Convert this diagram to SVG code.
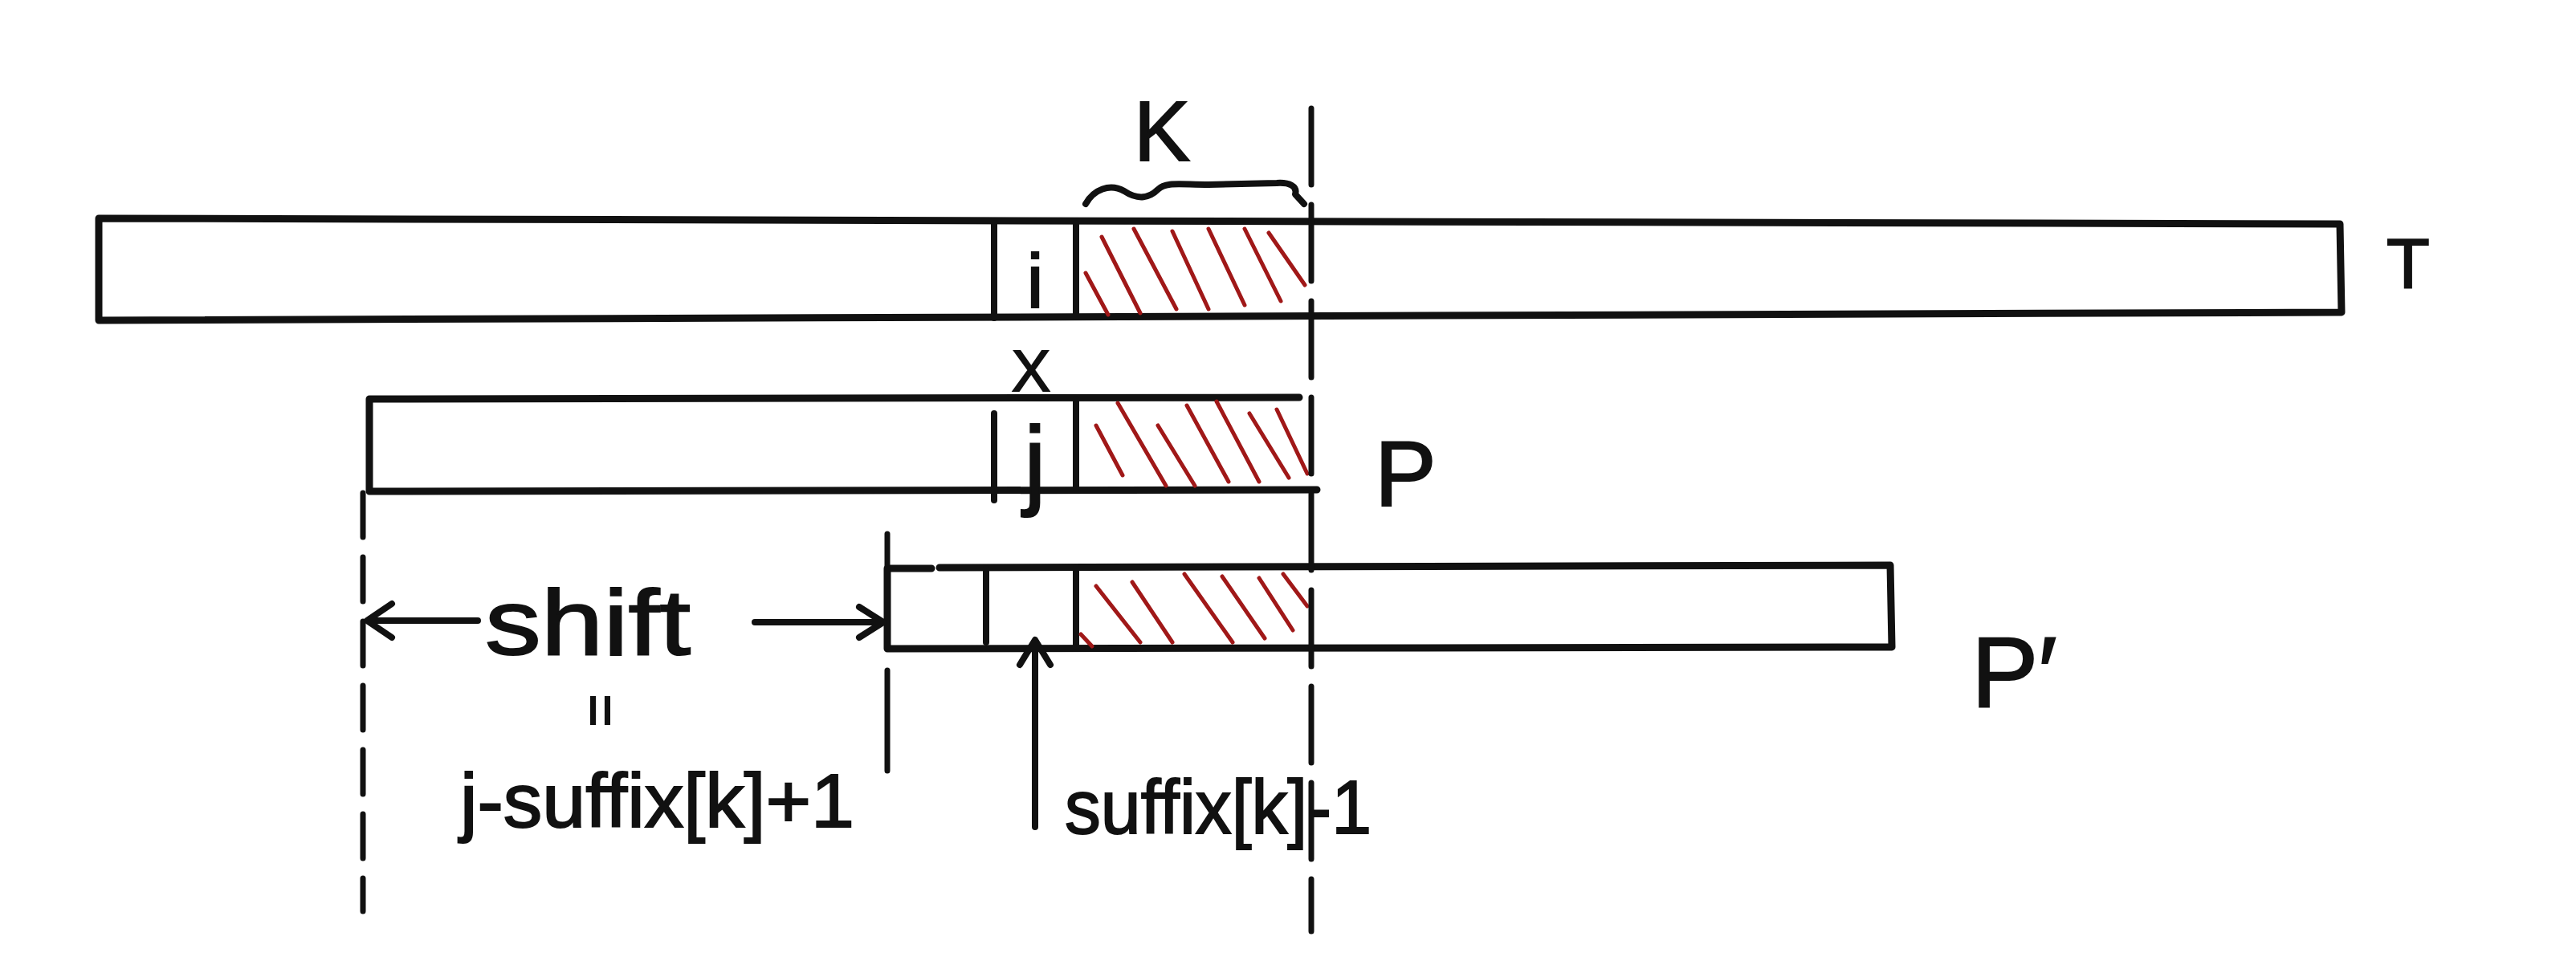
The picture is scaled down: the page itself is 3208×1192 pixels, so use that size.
<svg xmlns="http://www.w3.org/2000/svg" width="3208" height="1192" viewBox="0 0 3208 1192">
<style>
.box{fill:none;stroke:#111;stroke-width:9;stroke-linejoin:round;stroke-linecap:round}
.div{stroke:#111;stroke-width:8;stroke-linecap:round}
.hatch{stroke:#a01818;stroke-width:5;stroke-linecap:round}
.dash{fill:none;stroke:#111;stroke-width:7;stroke-linecap:round}
.arr{fill:none;stroke:#111;stroke-width:8;stroke-linecap:round;stroke-linejoin:round}
.lbl{font-family:"Liberation Sans",Arial,sans-serif;fill:#111;stroke:#111;stroke-width:2}
</style>
<rect width="3208" height="1192" fill="#ffffff"/>

<g id="node-T">
  <path class="box" d="M123,272 L2914,279 L2916,389 L123,399 Z"/>
  <line class="div" x1="1238" y1="278" x2="1238" y2="396"/>
  <line class="div" x1="1340" y1="278" x2="1340" y2="395"/>
  <g class="hatch">
    <line x1="1352" y1="340" x2="1380" y2="392"/>
    <line x1="1372" y1="295" x2="1420" y2="390"/>
    <line x1="1412" y1="285" x2="1465" y2="385"/>
    <line x1="1460" y1="288" x2="1505" y2="385"/>
    <line x1="1505" y1="285" x2="1550" y2="380"/>
    <line x1="1550" y1="285" x2="1595" y2="375"/>
    <line x1="1580" y1="290" x2="1625" y2="355"/>
  </g>
  <text class="lbl" x="1289" y="383" font-size="95" text-anchor="middle">i</text>
  <text class="lbl" x="2972" y="358" font-size="88">T</text>
</g>

<g id="node-P">
  <path class="box" d="M460,497 L1618,495 M460,497 L460,612 L1640,610"/>
  <line class="div" x1="1238" y1="515" x2="1238" y2="623"/>
  <line class="div" x1="1340" y1="497" x2="1340" y2="608"/>
  <g class="hatch">
    <line x1="1365" y1="530" x2="1398" y2="592"/>
    <line x1="1392" y1="502" x2="1452" y2="605"/>
    <line x1="1442" y1="530" x2="1488" y2="605"/>
    <line x1="1478" y1="505" x2="1530" y2="600"/>
    <line x1="1515" y1="500" x2="1568" y2="600"/>
    <line x1="1556" y1="515" x2="1605" y2="595"/>
    <line x1="1590" y1="510" x2="1628" y2="590"/>
  </g>
  <text class="lbl" x="1289" y="618" font-size="125" text-anchor="middle">j</text>
  <text class="lbl" x="1284" y="487" font-size="72" text-anchor="middle">X</text>
  <text class="lbl" x="1712" y="630" font-size="115">P</text>
</g>

<g id="node-Pprime">
  <path class="box" d="M1105,708 L1160,708 M1170,707 L2354,704 L2356,806 L1105,808 L1105,708"/>
  <line class="div" x1="1228" y1="708" x2="1228" y2="800"/>
  <line class="div" x1="1340" y1="707" x2="1340" y2="806"/>
  <g class="hatch">
    <line x1="1346" y1="790" x2="1360" y2="805"/>
    <line x1="1365" y1="730" x2="1420" y2="800"/>
    <line x1="1410" y1="725" x2="1460" y2="800"/>
    <line x1="1475" y1="715" x2="1535" y2="800"/>
    <line x1="1522" y1="718" x2="1575" y2="795"/>
    <line x1="1568" y1="720" x2="1610" y2="785"/>
    <line x1="1598" y1="715" x2="1628" y2="755"/>
  </g>
  <text class="lbl" x="2455" y="880" font-size="125">P′</text>
</g>

<g id="label-k">
  <text class="lbl" x="1447" y="200" font-size="105" text-anchor="middle">K</text>
  <path class="arr" d="M1352,254 C1362,236 1382,228 1400,238 C1418,250 1432,246 1442,236 C1452,226 1470,230 1505,230 L1590,228 C1606,227 1616,232 1613,242 L1624,254"/>
</g>

<g id="label-shift">
  <text class="lbl" x="604" y="815" font-size="115" textLength="256" lengthAdjust="spacingAndGlyphs">shift</text>
  <text class="lbl" x="0" y="0" font-size="70" text-anchor="middle" transform="translate(724,885) rotate(90)">=</text>
  <text class="lbl" x="573" y="1030" font-size="95" textLength="491" lengthAdjust="spacingAndGlyphs">j-suffix[k]+1</text>
</g>

<g id="label-suffix">
  <text class="lbl" x="1326" y="1038" font-size="95" textLength="382" lengthAdjust="spacingAndGlyphs">suffix[k]-1</text>
</g>

<g id="connectors">
  <line class="dash" x1="1633" y1="135" x2="1633" y2="1160" stroke-dasharray="95 25"/>
  <line class="dash" x1="452" y1="614" x2="452" y2="1135" stroke-dasharray="55 25"/>
  <line class="dash" x1="1105" y1="665" x2="1105" y2="960" stroke-dasharray="140 30"/>
  <path class="arr" d="M458,773 L595,773 M488,752 L457,773 L488,794"/>
  <path class="arr" d="M940,775 L1098,775 M1070,756 L1100,775 L1070,794"/>
  <path class="arr" d="M1289,1030 L1289,798 M1270,828 L1289,797 L1308,828"/>
</g>
</svg>
